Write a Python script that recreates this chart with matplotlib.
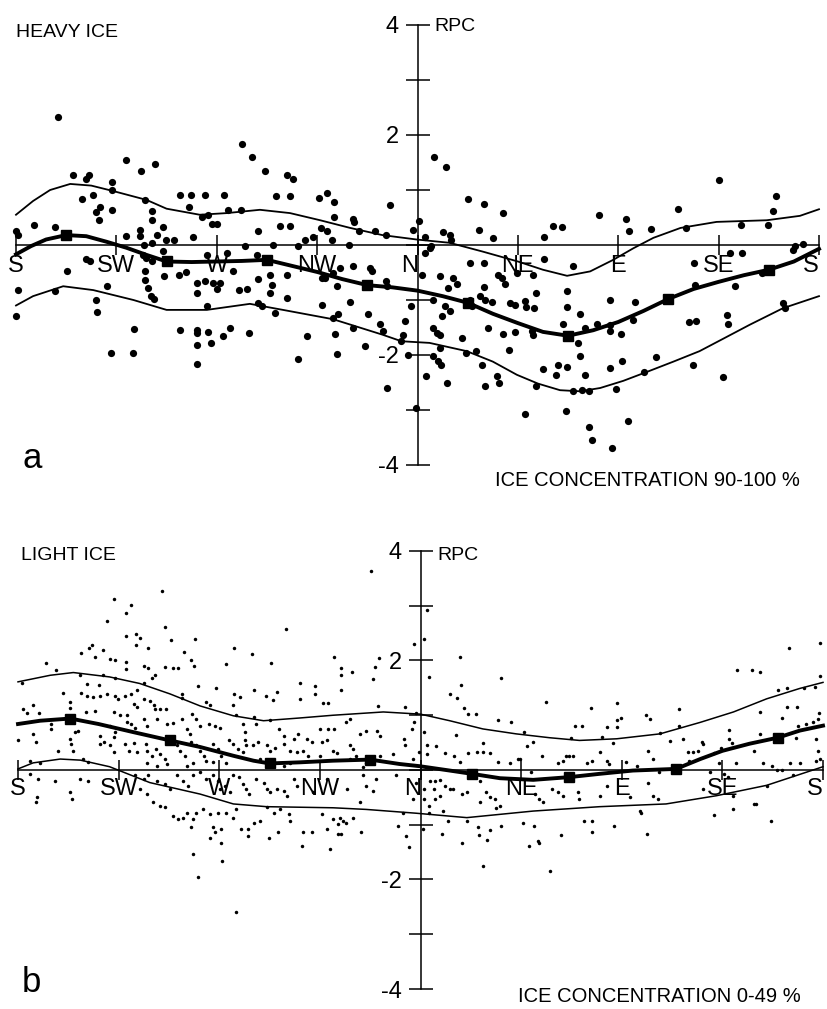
import matplotlib
matplotlib.use("Agg")
import matplotlib.pyplot as plt

plt.rcParams['font.family'] = ['Liberation Sans', 'DejaVu Sans']

# direction axis in octants: 0=S, 1=SW, 2=W, 3=NW, 4=N, 5=NE, 6=E, 7=SE, 8=S
dir_labels = ['S', 'SW', 'W', 'NW', 'N', 'NE', 'E', 'SE', 'S']
rpc_ticks = [-4, -3, -2, -1, 0, 1, 2, 3, 4]
rpc_labels = ['-4', '', '-2', '', '', '', '2', '', '4']

# --- a: heavy ice (90-100 %) ---
heavy_mean_x = [0.0, 0.15, 0.3, 0.5, 0.7, 0.9, 1.1, 1.3, 1.5, 1.75, 2.0, 2.25, 2.5, 2.75, 3.0,
                3.25, 3.5, 3.75, 4.0, 4.25, 4.5, 4.75, 5.0, 5.25, 5.5, 5.75, 6.0, 6.25, 6.5,
                6.75, 7.0, 7.25, 7.5, 7.75, 8.0]
heavy_mean = [-0.17, -0.02, 0.1, 0.18, 0.16, 0.06, -0.05, -0.18, -0.3, -0.31, -0.3, -0.29, -0.27,
              -0.38, -0.49, -0.62, -0.73, -0.77, -0.83, -0.93, -1.05, -1.25, -1.42, -1.58, -1.65,
              -1.55, -1.4, -1.2, -0.98, -0.8, -0.67, -0.55, -0.45, -0.3, -0.07]
heavy_hi_x = [0.0, 0.17, 0.34, 0.54, 0.75, 0.97, 1.3, 1.5, 1.83, 2.1, 2.43, 2.73, 3.03, 3.33, 3.65,
              3.99, 4.32, 4.65, 5.0, 5.25, 5.49, 5.72, 5.95, 6.15, 6.35, 6.62, 6.98, 7.48, 7.81, 8.0]
heavy_hi = [0.55, 0.8, 1.0, 1.11, 1.08, 0.98, 0.82, 0.66, 0.55, 0.58, 0.64, 0.58, 0.45, 0.31, 0.18,
            0.1, 0.04, -0.12, -0.3, -0.45, -0.56, -0.48, -0.27, -0.06, 0.13, 0.31, 0.42, 0.45, 0.53,
            0.65]
heavy_lo_x = [0.0, 0.17, 0.47, 0.77, 1.17, 1.5, 1.9, 2.33, 2.66, 3.16, 3.65, 3.84, 4.12, 4.49, 4.75,
              4.99, 5.2, 5.42, 5.62, 5.82, 6.05, 6.31, 6.55, 6.81, 7.05, 7.31, 7.64, 8.0]
heavy_lo = [-1.1, -0.93, -0.75, -0.82, -1.0, -1.18, -1.18, -1.07, -1.18, -1.35, -1.63, -1.75, -1.78,
            -1.93, -2.12, -2.36, -2.52, -2.64, -2.66, -2.6, -2.47, -2.29, -2.12, -1.93, -1.7, -1.45,
            -1.15, -0.93]
heavy_pts = [
    (0.42, 2.33), (0.0, 0.25), (0.02, 0.18), (0.18, 0.36), (0.39, 0.33), (0.57, 1.27), (0.70, 1.2),
    (0.73, 1.27), (0.66, 0.84), (0.77, 0.91), (0.84, 0.69), (0.80, 0.6), (0.83, 0.45), (0.96, 1.15),
    (0.96, 1.0), (0.96, 0.64), (1.10, 1.55), (1.10, 0.16), (1.25, 1.35), (1.29, 0.82), (1.35, 0.62),
    (1.35, 0.45), (1.38, 1.47), (1.46, 0.33), (1.24, 0.27), (1.24, 0.16), (1.40, 0.18), (1.49, 0.09),
    (1.57, 0.09), (1.28, 0.0), (1.35, 0.04), (1.76, 0.15), (1.63, 0.91), (1.74, 0.91), (1.88, 0.91),
    (1.72, 0.69), (1.85, 0.51), (1.91, 0.55), (1.95, 0.38), (2.0, 0.38), (2.07, 0.91), (2.11, 0.64),
    (2.24, 0.64), (2.25, 1.84), (2.35, 1.6), (2.48, 1.35), (2.41, 0.25), (2.59, 0.89), (2.70, 1.27),
    (2.76, 1.2), (2.73, 0.89), (2.63, 0.35), (2.73, 0.35), (2.28, -0.02), (2.56, 0.0), (2.81, -0.02),
    (2.88, 0.09), (2.96, 0.15), (3.02, 0.85), (3.10, 0.95), (3.17, 0.78), (3.17, 0.51), (3.04, 0.31),
    (3.10, 0.25), (3.15, 0.09), (3.36, 0.47), (3.37, 0.42), (3.42, 0.25), (3.58, 0.25), (3.69, 0.18),
    (3.73, 0.73), (3.32, 0.0), (3.96, 0.27), (4.01, 0.44), (4.07, 0.15),
    (4.16, 1.6), (4.28, 1.42), (4.5, 0.84), (4.66, 0.75), (4.85, 0.58), (4.61, 0.27), (4.75, 0.13),
    (4.25, 0.24), (4.32, 0.18), (4.33, 0.09), (4.13, -0.02), (5.26, 0.15), (5.35, 0.35), (5.44, 0.33),
    (5.81, 0.55), (6.08, 0.47), (6.11, 0.25), (6.33, 0.29), (6.6, 0.65), (6.67, 0.31), (7.0, 1.18),
    (7.22, 0.36), (7.49, 0.36), (7.54, 0.62), (7.57, 0.89), (7.76, -0.02), (7.84, 0.02),
    (0.02, -0.82), (0.0, -1.29), (0.51, -0.47), (0.39, -0.84), (0.70, -0.25), (0.74, -0.29),
    (0.91, -0.75), (0.80, -1.0), (0.81, -1.22), (1.18, -1.53), (0.95, -1.96), (1.17, -1.96),
    (1.27, -0.18), (1.30, -0.24), (1.29, -0.47), (1.29, -0.64), (1.32, -0.78), (1.34, -0.93),
    (1.37, -0.98), (1.35, -0.29), (1.46, -0.11), (1.49, -0.29), (1.47, -0.56), (1.62, -0.55),
    (1.69, -0.49), (1.90, -0.18), (1.80, -0.69), (1.80, -0.87), (1.88, -0.65), (1.96, -0.69),
    (2.0, -0.8), (2.03, -0.69), (1.90, -1.11), (1.63, -1.55), (1.80, -1.55), (1.80, -1.6),
    (1.91, -1.58), (2.06, -1.65), (2.13, -1.51), (1.80, -1.82), (1.94, -1.78), (1.80, -2.16),
    (2.32, -1.6), (2.10, -0.15), (2.16, -0.47), (2.22, -0.82), (2.30, -0.8), (2.41, -0.62),
    (2.40, -0.18), (2.53, -0.55), (2.55, -0.73), (2.53, -0.87), (2.70, -0.55), (2.70, -0.96),
    (2.41, -1.05), (2.45, -1.11), (2.58, -1.24), (2.90, -1.65), (2.81, -2.07), (3.05, -0.6),
    (3.08, -0.6), (3.20, -0.75), (3.16, -0.51), (3.23, -0.42), (3.36, -0.38), (3.53, -0.42),
    (3.55, -0.47), (3.69, -0.65), (3.70, -0.75), (3.05, -1.09), (3.21, -1.25), (3.33, -1.04),
    (3.51, -1.25), (3.16, -1.33), (3.18, -1.62), (3.20, -1.98), (3.36, -1.51), (3.48, -1.84),
    (3.63, -1.44), (3.66, -1.56), (3.70, -2.6), (3.86, -1.64), (3.84, -1.75), (3.88, -1.38),
    (3.94, -1.11), (4.04, -0.55), (4.08, -2.38), (3.99, -2.96),
    (4.07, -0.15), (4.12, -0.05), (4.22, -0.56), (4.35, -0.6), (4.39, -0.71), (4.30, -0.78),
    (4.52, -0.33), (4.66, -0.33), (4.80, -0.55), (4.84, -0.6), (4.87, -0.71), (4.99, -0.51),
    (5.15, -0.55), (5.26, -0.25), (5.55, -0.38), (4.66, -0.76), (4.62, -0.93), (4.67, -1.0),
    (4.74, -1.04), (4.52, -1.0), (4.54, -1.11), (4.15, -1.0), (4.27, -1.11), (4.32, -1.2),
    (4.24, -1.29), (4.15, -1.51), (4.19, -1.6), (4.22, -1.64), (4.22, -1.87), (4.44, -1.69),
    (4.70, -1.51), (4.85, -1.62), (4.97, -1.58), (4.92, -1.05), (4.97, -1.09), (5.07, -1.02),
    (5.08, -1.13), (5.16, -1.15), (5.18, -0.87), (5.14, -1.56), (5.15, -1.64), (5.49, -0.84),
    (5.49, -1.13), (5.45, -1.44), (5.62, -1.25), (5.67, -1.51), (5.79, -1.44), (5.92, -1.0),
    (6.17, -1.04), (6.15, -1.36), (5.92, -1.45), (5.92, -1.56), (6.03, -1.62), (5.60, -1.78),
    (5.62, -2.02), (5.67, -2.36), (5.40, -2.18), (5.49, -2.22), (5.38, -2.36), (5.25, -2.25),
    (5.18, -2.56), (5.55, -2.65), (5.64, -2.64), (5.71, -2.65), (5.92, -2.24), (6.04, -2.11),
    (5.98, -2.62), (6.26, -2.31), (6.38, -2.04), (4.58, -1.93), (4.48, -1.96), (4.64, -2.18),
    (4.91, -1.91), (4.79, -2.38), (4.81, -2.51), (4.67, -2.56), (4.29, -2.51), (3.91, -2.0),
    (4.15, -2.02), (4.20, -2.11), (4.23, -2.18), (5.07, -3.07), (5.48, -3.02), (5.71, -3.31),
    (5.74, -3.55), (5.94, -3.69), (6.10, -3.2), (6.74, -2.18), (7.04, -2.4), (6.70, -1.4),
    (6.77, -1.38), (7.08, -1.27), (7.09, -1.44), (6.76, -0.73), (7.16, -0.75), (7.64, -1.05),
    (7.66, -1.15), (7.43, -0.51), (7.11, -0.15), (7.23, -0.15), (7.74, -0.09), (6.75, -0.33),
]

# --- b: light ice (0-49 %) ---
light_mean_x = [0.0, 0.22, 0.52, 0.8, 1.15, 1.51, 1.81, 2.14, 2.34, 2.5, 2.8, 3.13, 3.5, 3.79,
                3.99, 4.29, 4.51, 4.79, 5.12, 5.48, 5.78, 6.11, 6.54, 6.78, 7.0, 7.27, 7.55,
                7.77, 8.0]
light_mean = [0.84, 0.9, 0.94, 0.84, 0.69, 0.54, 0.42, 0.26, 0.17, 0.12, 0.14, 0.17, 0.19, 0.11,
              0.07, -0.01, -0.07, -0.15, -0.18, -0.13, -0.07, -0.01, 0.02, 0.2, 0.35, 0.48, 0.59,
              0.72, 0.81]
light_hi_x = [0.0, 0.32, 0.55, 0.91, 1.21, 1.51, 1.81, 2.14, 2.44, 2.8, 3.13, 3.63, 4.0, 4.29,
              4.62, 4.95, 5.28, 5.58, 5.95, 6.38, 6.78, 7.11, 7.44, 7.77, 8.0]
light_hi = [1.61, 1.73, 1.78, 1.7, 1.58, 1.39, 1.17, 0.99, 0.9, 0.95, 1.0, 1.06, 1.02, 0.9, 0.75,
            0.66, 0.59, 0.54, 0.57, 0.66, 0.87, 1.06, 1.3, 1.49, 1.6]
light_lo_x = [0.0, 0.15, 0.42, 0.62, 0.91, 1.31, 1.81, 2.14, 2.47, 3.13, 3.46, 3.96, 4.46, 5.12,
              5.78, 6.44, 6.94, 7.44, 8.0]
light_lo = [0.02, 0.13, 0.2, 0.18, 0.06, -0.23, -0.44, -0.62, -0.67, -0.69, -0.72, -0.79, -0.87,
            -0.75, -0.67, -0.62, -0.47, -0.28, 0.06]
light_pts = [
    (3.51, 3.64), (1.43, 3.27), (0.95, 3.13), (1.12, 3.02), (1.07, 2.86), (0.88, 2.72), (1.46, 2.62),
    (1.07, 2.45), (1.17, 2.48), (1.21, 2.42), (1.17, 2.29), (1.52, 2.37), (1.76, 2.39), (2.66, 2.57),
    (0.71, 2.23), (0.74, 2.29), (0.63, 2.14), (0.84, 2.19), (1.29, 2.22), (1.65, 2.16), (2.15, 2.23),
    (3.94, 2.31), (4.03, 2.4), (4.06, 2.92), (0.77, 2.07), (0.91, 2.02), (0.96, 2.01), (1.07, 1.98),
    (1.07, 1.85), (1.25, 1.9), (1.29, 1.87), (1.46, 1.88), (1.54, 1.87), (1.59, 1.87), (1.72, 2.01),
    (1.75, 1.9), (2.33, 2.11), (2.07, 1.94), (2.51, 1.96), (3.14, 2.07), (3.21, 1.87), (3.21, 1.73),
    (3.32, 1.79), (3.55, 1.88), (3.59, 2.05), (3.53, 1.66), (4.08, 1.7), (0.28, 1.96), (0.38, 1.83),
    (0.04, 1.58), (0.62, 1.73), (0.84, 1.73), (0.96, 1.68), (0.69, 1.57), (0.8, 1.55), (0.45, 1.41),
    (0.63, 1.41), (0.69, 1.36), (0.75, 1.33), (0.81, 1.36), (0.88, 1.39), (0.96, 1.36), (0.99, 1.3),
    (1.06, 1.35), (1.12, 1.39), (1.18, 1.46), (1.25, 1.58), (1.33, 1.68), (1.36, 1.73), (1.25, 1.3),
    (1.31, 1.26), (1.35, 1.18), (1.15, 1.21), (1.18, 1.15), (1.63, 1.38), (1.63, 1.31), (1.79, 1.54),
    (1.97, 1.5), (1.87, 1.24), (1.91, 1.18), (2.15, 1.39), (2.21, 1.33), (2.35, 1.47), (2.46, 1.36),
    (2.57, 1.43), (2.53, 1.27), (2.8, 1.58), (2.95, 1.54), (2.95, 1.39), (2.8, 1.3), (3.21, 1.46),
    (3.03, 1.23), (3.08, 1.23), (3.58, 1.16), (3.85, 1.15),
    (0.05, 1.11), (0.09, 1.04), (0.15, 1.19), (0.21, 1.05), (0.33, 0.84), (0.33, 0.75), (0.52, 1.24),
    (0.52, 1.13), (0.68, 1.06), (0.77, 1.07), (0.95, 1.06), (1.01, 1.0), (1.08, 1.0), (0.91, 0.81),
    (0.96, 0.7), (0.95, 0.6), (1.08, 0.87), (1.12, 0.84), (1.16, 0.76), (1.25, 0.94), (1.28, 0.81),
    (1.36, 1.11), (1.41, 1.11), (1.47, 1.12), (1.38, 0.94), (1.48, 0.84), (1.54, 0.86), (1.63, 0.94),
    (1.73, 1.03), (1.77, 0.94), (1.81, 0.81), (1.68, 0.75), (1.71, 0.66), (1.9, 0.84), (1.96, 0.81),
    (2.01, 0.76), (2.14, 1.18), (2.17, 1.0), (2.24, 0.84), (2.26, 0.69), (2.26, 0.54), (2.35, 0.97),
    (2.37, 0.84), (2.5, 0.91), (2.59, 0.74), (2.64, 0.63), (2.74, 0.57), (2.78, 0.66), (2.87, 0.57),
    (2.92, 0.51), (3.0, 0.75), (3.08, 0.74), (3.14, 0.75), (3.02, 0.51), (3.07, 0.54), (3.26, 0.87),
    (3.3, 0.94), (3.4, 0.66), (3.46, 0.72), (3.57, 0.72), (3.6, 0.63), (3.3, 0.45), (3.33, 0.39),
    (3.84, 0.57), (3.85, 0.45), (3.94, 0.87), (4.03, 0.69), (0.0, 0.54), (0.15, 0.66), (0.18, 0.52),
    (0.52, 0.57), (0.53, 0.48), (0.57, 0.69), (0.6, 0.72), (0.4, 0.34), (0.55, 0.34), (0.81, 0.63),
    (0.81, 0.48), (0.85, 0.52), (0.91, 0.45), (0.95, 0.32), (1.06, 0.48), (1.1, 0.35), (1.15, 0.5),
    (1.18, 0.32), (1.27, 0.48), (1.28, 0.35), (1.33, 0.26), (1.37, 0.39), (1.41, 0.29), (1.46, 0.2),
    (1.48, 0.11), (1.58, 0.45), (1.61, 0.35), (1.66, 0.26), (1.72, 0.52), (1.77, 0.45), (1.81, 0.35),
    (1.85, 0.26), (1.87, 0.17), (1.94, 0.48), (1.99, 0.39), (2.02, 0.26), (2.1, 0.54), (2.14, 0.48),
    (2.19, 0.39), (2.24, 0.32), (2.27, 0.45), (2.34, 0.45), (2.39, 0.52), (2.47, 0.45), (2.5, 0.35),
    (2.55, 0.4), (2.64, 0.48), (2.7, 0.35), (2.77, 0.32), (2.83, 0.35), (2.88, 0.26), (3.0, 0.26),
    (3.13, 0.35), (3.17, 0.31), (3.3, 0.2), (3.36, 0.26), (3.6, 0.26), (3.73, 0.29), (3.93, 0.2),
    (3.99, 0.32), (0.12, 0.17), (0.22, 0.13), (0.65, 0.2), (0.7, 0.14), (1.28, 0.13), (1.38, 0.08),
    (1.68, 0.08), (1.74, 0.13), (1.94, 0.15), (2.07, 0.13), (2.4, 0.2), (2.47, 0.13), (2.64, 0.08),
    (2.7, 0.13), (3.43, 0.05), (3.46, 0.13),
    (0.12, -0.07), (0.2, -0.17), (0.37, -0.2), (0.62, -0.17), (0.7, -0.2), (0.19, -0.5),
    (0.52, -0.41), (0.54, -0.53), (1.16, -0.1), (1.25, -0.17), (1.29, -0.09), (1.38, -0.2),
    (1.46, -0.26), (1.51, -0.35), (1.21, -0.35), (1.28, -0.44), (1.58, -0.1), (1.64, -0.2),
    (1.69, -0.29), (1.74, -0.1), (1.81, -0.04), (1.87, -0.17), (1.94, -0.09), (1.99, -0.2),
    (2.01, -0.35), (2.06, -0.29), (2.11, -0.41), (2.14, -0.1), (2.2, -0.13), (2.24, -0.26),
    (2.27, -0.35), (2.3, -0.44), (2.37, -0.17), (2.44, -0.23), (2.47, -0.35), (2.5, -0.41),
    (2.57, -0.35), (2.64, -0.38), (2.67, -0.47), (2.74, -0.17), (2.77, -0.29), (2.93, -0.41),
    (3.07, -0.17), (3.27, -0.35), (3.43, -0.1), (3.46, -0.29), (3.53, -0.38), (3.56, -0.17),
    (3.76, -0.1), (3.96, -0.23), (4.03, -0.35), (4.03, -0.53),
    (0.18, -0.59), (1.34, -0.59), (1.41, -0.65), (1.46, -0.68), (1.54, -0.84), (1.59, -0.9),
    (1.64, -0.87), (1.68, -0.78), (1.72, -1.05), (1.74, -0.9), (1.77, -0.78), (1.84, -0.72),
    (1.91, -0.81), (1.94, -1.05), (1.96, -1.14), (1.91, -1.24), (2.02, -1.08), (2.02, -1.33),
    (1.74, -1.54), (1.79, -1.95), (2.03, -1.66), (2.17, -2.6), (1.99, -0.78), (2.07, -0.78),
    (2.14, -0.87), (2.17, -0.72), (2.22, -1.08), (2.29, -1.08), (2.29, -1.2), (2.35, -0.96),
    (2.4, -0.93), (2.47, -0.68), (2.54, -0.78), (2.6, -0.72), (2.49, -1.24), (2.58, -1.14),
    (2.69, -0.81), (2.7, -0.93), (2.82, -1.39), (2.83, -1.14), (2.92, -1.14), (3.02, -0.81),
    (3.07, -1.08), (3.1, -1.45), (3.13, -0.9), (3.18, -0.99), (3.2, -0.87), (3.23, -0.93),
    (3.18, -1.17), (3.21, -1.17), (3.26, -0.96), (3.33, -0.87), (3.41, -1.14), (3.78, -1.02),
    (3.86, -1.2), (3.89, -1.41), (3.83, -0.78), (3.4, -0.59),
    (4.39, 2.07), (4.4, 1.55), (4.29, 1.38), (4.36, 1.32), (4.43, 1.14), (4.47, 1.03), (4.55, 1.03),
    (4.8, 1.68), (5.25, 1.24), (5.69, 1.14), (5.95, 1.22), (5.95, 0.92), (5.99, 0.95), (6.24, 1.0),
    (6.28, 0.94), (6.57, 1.11), (7.15, 1.83), (7.29, 1.83), (7.37, 1.79), (7.66, 2.22), (7.97, 2.32),
    (7.97, 1.72), (7.55, 1.47), (7.64, 1.5), (7.64, 1.15), (7.74, 1.15), (7.37, 1.06), (7.59, 0.95),
    (7.75, 0.81), (7.83, 0.84), (7.9, 0.87), (7.96, 1.05), (7.95, 0.94), (7.81, 1.49), (7.92, 1.52),
    (7.07, 0.73), (7.37, 0.66), (7.73, 0.59), (7.93, 0.57), (7.95, 0.35), (7.93, 0.17), (7.97, 0.2),
    (7.1, 0.49), (6.99, 0.4), (6.92, 0.31), (7.31, 0.35), (7.14, 0.13), (6.97, 0.13), (7.4, 0.13),
    (7.49, 0.08), (7.54, 0.0), (7.59, 0.0), (7.67, 0.13), (7.77, 0.13), (6.57, 0.8), (6.38, 0.68),
    (6.48, 0.53), (6.61, 0.57), (6.66, 0.32), (6.71, 0.32), (6.76, 0.35), (6.8, 0.51), (6.81, 0.48),
    (7.07, 0.57), (6.26, 0.34), (6.31, 0.2), (6.15, 0.08), (6.37, -0.04), (6.67, 0.17), (6.88, -0.04),
    (7.02, -0.07), (7.06, -0.13), (7.11, -0.48), (7.31, -0.62), (7.44, -0.29), (7.7, -0.1),
    (6.81, -0.35), (5.95, 0.78), (5.54, 0.81), (5.6, 0.81), (5.85, 0.78), (5.8, 0.6), (5.91, 0.49),
    (5.5, 0.59), (4.77, 0.92), (4.9, 0.87), (5.03, 0.69), (5.06, 0.43), (5.12, 0.51), (5.21, 0.26),
    (4.62, 0.49), (4.35, 0.64), (4.24, 0.31), (4.33, 0.26), (4.47, 0.31), (4.56, 0.32), (4.62, 0.32),
    (4.69, 0.31), (4.06, 0.46), (4.06, 0.29), (4.15, 0.43), (3.92, 0.74), (3.96, 1.05), (4.39, 0.14),
    (4.77, 0.15), (4.89, 0.13), (4.97, 0.2), (4.99, 0.21), (5.37, 0.13), (5.42, 0.17), (5.45, 0.26),
    (5.48, 0.26), (5.52, 0.26), (5.65, 0.13), (5.7, 0.17), (5.78, 0.32), (5.85, 0.17), (5.87, 0.11),
    (6.04, 0.14), (5.1, -0.04),
    (4.09, -0.21), (4.14, -0.2), (4.19, -0.18), (4.24, -0.29), (4.29, -0.35), (4.32, -0.34),
    (4.13, -0.35), (4.14, -0.53), (4.19, -0.47), (4.41, -0.44), (4.46, -0.41), (4.59, -0.2),
    (4.65, -0.41), (4.69, -0.5), (4.74, -0.53), (4.79, -0.65), (4.59, -0.59), (4.75, -0.69),
    (5.14, -0.44), (5.18, -0.53), (5.22, -0.59), (5.31, -0.34), (5.37, -0.41), (5.42, -0.47),
    (5.57, -0.41), (5.58, -0.53), (5.78, -0.47), (5.85, -0.29), (6.08, -0.5), (6.26, -0.23),
    (6.31, -0.48), (6.36, -0.53), (3.93, -0.53), (4.08, -0.65),
    (4.22, -0.75), (4.27, -0.93), (4.46, -0.93), (4.21, -1.16), (4.41, -1.33), (4.57, -1.05),
    (4.58, -1.19), (4.66, -1.27), (4.69, -1.09), (4.62, -1.76), (4.8, -1.03), (5.02, -0.97),
    (5.13, -1.03), (5.08, -1.39), (5.17, -1.3), (5.18, -1.34), (5.29, -1.85), (5.4, -1.19),
    (5.62, -0.93), (5.7, -0.93), (5.7, -1.13), (5.92, -1.02), (6.18, -0.75), (6.19, -0.79),
    (6.25, -1.16), (6.92, -0.82), (7.11, -0.72), (7.33, -0.62), (7.48, -0.94), (4.02, -1.07),
    (4.08, -0.78),
]


def setup_axes(ax, xpad):
    ax.set_xlim(0, 8)
    ax.set_ylim(-4, 4)
    ax.patch.set_visible(False)
    ax.spines['top'].set_visible(False)
    ax.spines['right'].set_visible(False)
    ax.spines['left'].set_position(('data', 4))
    ax.spines['bottom'].set_position(('data', 0))
    for s in ('left', 'bottom'):
        ax.spines[s].set_linewidth(1.1)
    ax.set_xticks(range(9))
    ax.set_xticklabels(dir_labels)
    ax.set_yticks(rpc_ticks)
    ax.set_yticklabels(rpc_labels)
    ax.tick_params(axis='x', direction='inout', length=15, width=1.1, labelsize=17, pad=xpad)
    ax.tick_params(axis='y', direction='inout', length=17, width=1.1, labelsize=17, pad=5)
    xl = ax.get_xticklabels()
    xl[4].set_horizontalalignment('right')
    xl[8].set_horizontalalignment('right')


def draw_panel(ax, pts, dot_size, mean_x, mean, hi_x, hi, lo_x, lo, thin_lw):
    px = [p[0] for p in pts]
    py = [p[1] for p in pts]
    ax.plot(px, py, 'o', color='black', ms=dot_size, mew=0, clip_on=False)
    ax.plot(hi_x, hi, color='black', lw=thin_lw, clip_on=False)
    ax.plot(lo_x, lo, color='black', lw=thin_lw, clip_on=False)
    sq = [i for i, x in enumerate(mean_x) if abs(x % 1 - 0.5) < 0.06]
    ax.plot(mean_x, mean, color='black', lw=2.8, marker='s', ms=7, markevery=sq,
            clip_on=False)


fig = plt.figure(figsize=(8.27, 10.09), dpi=100)

ax_a = fig.add_axes([0.01935, 0.53915, 0.97098, 0.43608])
setup_axes(ax_a, 0)
draw_panel(ax_a, heavy_pts, 5.2, heavy_mean_x, heavy_mean, heavy_hi_x, heavy_hi,
           heavy_lo_x, heavy_lo, 1.3)
ax_a.text(0.0, 3.78, 'HEAVY ICE', fontsize=14, va='baseline', ha='left')
ax_a.text(4.17, 3.89, 'RPC', fontsize=14, va='baseline', ha='left')
ax_a.text(0.06, -4.05, 'a', fontsize=25, va='baseline', ha='left')
ax_a.text(4.77, -4.38, 'ICE CONCENTRATION 90-100 %', fontsize=14.5, va='baseline', ha='left')

ax_b = fig.add_axes([0.02177, 0.01982, 0.97340, 0.43410])
setup_axes(ax_b, -2)
draw_panel(ax_b, light_pts, 2.5, light_mean_x, light_mean, light_hi_x, light_hi,
           light_lo_x, light_lo, 1.1)
ax_b.text(0.03, 3.83, 'LIGHT ICE', fontsize=14, va='baseline', ha='left')
ax_b.text(4.17, 3.83, 'RPC', fontsize=14, va='baseline', ha='left')
ax_b.text(0.04, -4.05, 'b', fontsize=25, va='baseline', ha='left')
ax_b.text(4.97, -4.24, 'ICE CONCENTRATION 0-49 %', fontsize=14.5, va='baseline', ha='left')

fig.savefig('out.png', dpi=100)
